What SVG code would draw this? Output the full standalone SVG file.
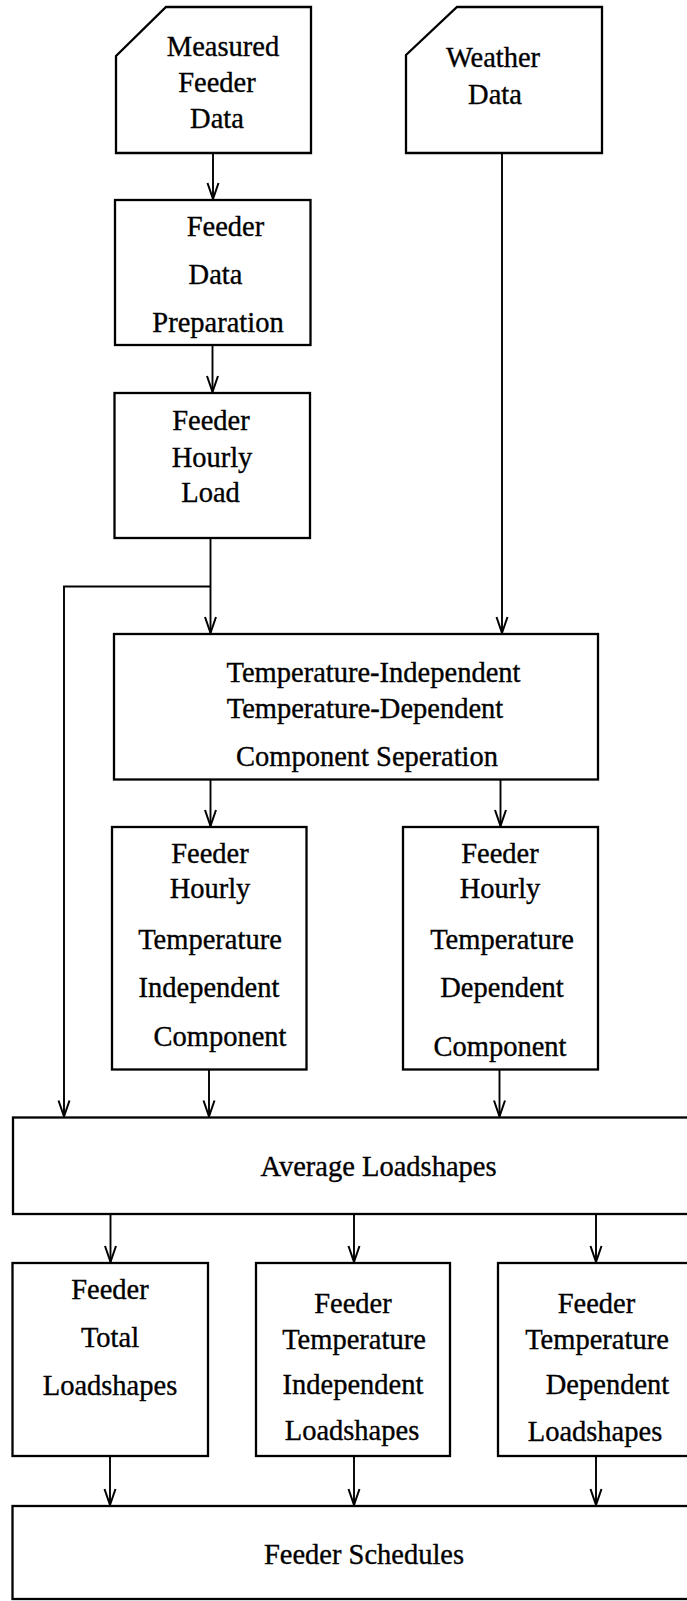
<svg xmlns="http://www.w3.org/2000/svg" width="687" height="1601" viewBox="0 0 687 1601">
<style>
.box{fill:#fff;stroke:#000;stroke-width:2.3}
.t{font-family:"Liberation Serif","Times New Roman",serif;font-size:28.5px;fill:#000;stroke:#000;stroke-width:0.35;text-anchor:middle}
.c{fill:none;stroke:#000;stroke-width:1.9}
</style>
<defs>
<marker id="ah" viewBox="-1 -7 19 14" markerWidth="19" markerHeight="14" refX="16" refY="0" orient="auto" markerUnits="userSpaceOnUse" overflow="visible">
<path d="M0,-5.5 L16,0 L0,5.5" fill="none" stroke="#000" stroke-width="2"/>
</marker>
</defs>
<rect width="687" height="1601" fill="#fff"/>
<g id="connectors">
<path class="c" d="M213,153 V199" marker-end="url(#ah)"/>
<path class="c" d="M502,153 V633" marker-end="url(#ah)"/>
<path class="c" d="M212.5,345 V392" marker-end="url(#ah)"/>
<path class="c" d="M210.5,538 V633" marker-end="url(#ah)"/>
<path class="c" d="M210.5,586.5 H64 V1116.5" marker-end="url(#ah)"/>
<path class="c" d="M210.5,779.5 V826" marker-end="url(#ah)"/>
<path class="c" d="M500.5,779.5 V826" marker-end="url(#ah)"/>
<path class="c" d="M209,1069.5 V1116.5" marker-end="url(#ah)"/>
<path class="c" d="M499.5,1069.5 V1116.5" marker-end="url(#ah)"/>
<path class="c" d="M110.5,1214 V1262" marker-end="url(#ah)"/>
<path class="c" d="M354,1214 V1262" marker-end="url(#ah)"/>
<path class="c" d="M596,1214 V1262" marker-end="url(#ah)"/>
<path class="c" d="M110,1456 V1505" marker-end="url(#ah)"/>
<path class="c" d="M354,1456 V1505" marker-end="url(#ah)"/>
<path class="c" d="M596,1456 V1505" marker-end="url(#ah)"/>
</g>
<g id="measured-feeder-data">
<path class="box" d="M116,56 L166,7 L311,7 L311,153 L116,153 Z"/>
<text class="t" x="223" y="56">Measured</text>
<text class="t" x="217" y="92">Feeder</text>
<text class="t" x="217" y="128">Data</text>
</g>
<g id="weather-data">
<path class="box" d="M406,55 L457,7 L602,7 L602,153 L406,153 Z"/>
<text class="t" x="493" y="67">Weather</text>
<text class="t" x="495" y="103.5">Data</text>
</g>
<g id="feeder-data-preparation">
<rect class="box" x="115" y="200" width="195.5" height="145"/>
<text class="t" x="225.5" y="236">Feeder</text>
<text class="t" x="215.5" y="284">Data</text>
<text class="t" x="218" y="332">Preparation</text>
</g>
<g id="feeder-hourly-load">
<rect class="box" x="114.5" y="393" width="195.5" height="145"/>
<text class="t" x="211" y="430">Feeder</text>
<text class="t" x="212" y="466.5">Hourly</text>
<text class="t" x="210.5" y="502">Load</text>
</g>
<g id="component-separation">
<rect class="box" x="114" y="634" width="484" height="145.5"/>
<text class="t" x="373.5" y="682">Temperature-Independent</text>
<text class="t" x="365" y="718">Temperature-Dependent</text>
<text class="t" x="367" y="765.5">Component Seperation</text>
</g>
<g id="hourly-ti-component">
<rect class="box" x="112" y="827" width="194.5" height="242.5"/>
<text class="t" x="210" y="863">Feeder</text>
<text class="t" x="210" y="898">Hourly</text>
<text class="t" x="210" y="949">Temperature</text>
<text class="t" x="209" y="997">Independent</text>
<text class="t" x="220" y="1045.5">Component</text>
</g>
<g id="hourly-td-component">
<rect class="box" x="403" y="827" width="195" height="242.5"/>
<text class="t" x="500" y="863">Feeder</text>
<text class="t" x="500" y="898">Hourly</text>
<text class="t" x="502" y="949">Temperature</text>
<text class="t" x="502" y="997">Dependent</text>
<text class="t" x="500" y="1056">Component</text>
</g>
<g id="average-loadshapes">
<rect class="box" x="13" y="1117.5" width="700" height="96.5"/>
<text class="t" x="378.5" y="1176">Average Loadshapes</text>
</g>
<g id="total-loadshapes">
<rect class="box" x="12.5" y="1263" width="195.5" height="193"/>
<text class="t" x="110" y="1299">Feeder</text>
<text class="t" x="110" y="1347">Total</text>
<text class="t" x="110" y="1395">Loadshapes</text>
</g>
<g id="ti-loadshapes">
<rect class="box" x="256" y="1263" width="194" height="193"/>
<text class="t" x="353" y="1313">Feeder</text>
<text class="t" x="354" y="1349">Temperature</text>
<text class="t" x="353" y="1394">Independent</text>
<text class="t" x="352" y="1440">Loadshapes</text>
</g>
<g id="td-loadshapes">
<rect class="box" x="498" y="1263" width="220" height="193"/>
<text class="t" x="596.5" y="1313">Feeder</text>
<text class="t" x="597" y="1349">Temperature</text>
<text class="t" x="607.5" y="1394">Dependent</text>
<text class="t" x="595" y="1441">Loadshapes</text>
</g>
<g id="feeder-schedules">
<rect class="box" x="12.5" y="1506" width="700" height="93"/>
<text class="t" x="364" y="1564">Feeder Schedules</text>
</g>
</svg>
